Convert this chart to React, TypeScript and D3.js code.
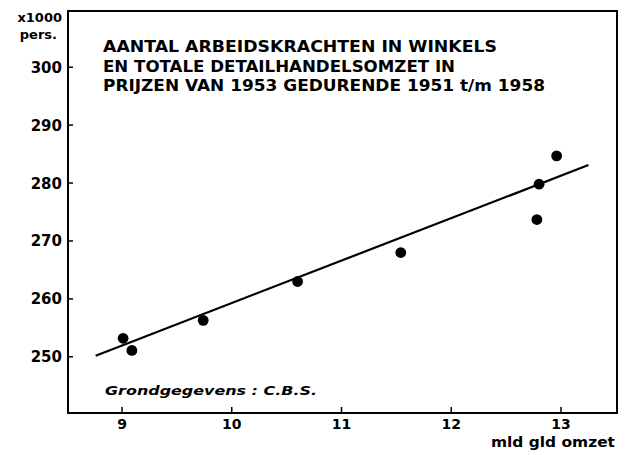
import React from "react";
import * as d3 from "d3";

const omzet = [9.01, 9.09, 9.74, 10.6, 11.54, 12.78, 12.8, 12.96];
const arbeid = [253.2, 251.1, 256.3, 263.0, 268.0, 273.7, 279.8, 284.7];
const trendX = [8.76, 13.25];
const trendY = [250.2, 283.1];
const xTicks = [9, 10, 11, 12, 13];
const yTicks = [250, 260, 270, 280, 290, 300];
const titleLines = [
  "AANTAL ARBEIDSKRACHTEN IN WINKELS",
  "EN TOTALE DETAILHANDELSOMZET IN",
  "PRIJZEN VAN 1953 GEDURENDE 1951 t/m 1958",
];
const titleWidths = [394, 352, 442];

export default function App() {
  const W = 630, H = 455;
  const left = 68, right = 617, top = 11, bottom = 413;
  const x = d3.scaleLinear().domain([8.508, 13.51]).range([left, right]);
  const y = d3.scaleLinear().domain([240.3, 309.7]).range([bottom, top]);
  const font = "'DejaVu Sans', Verdana, sans-serif";
  const line = d3.line<number>().x((d, i) => x(trendX[i])).y((d, i) => y(trendY[i]));
  return (
    <svg width={W} height={H} style={{ position: "absolute", left: 0, top: 0, background: "#fff" }}>
      <rect x={0} y={0} width={W} height={H} fill="#fff" />
      <rect x={left} y={top} width={right - left} height={bottom - top} fill="none" stroke="#000" strokeWidth={2} />
      {yTicks.map((t) => (
        <g key={"y" + t}>
          <line x1={left} x2={left + 5} y1={y(t)} y2={y(t)} stroke="#000" strokeWidth={1.5} />
          <text x={62} y={y(t) + 5.5} textAnchor="end" fontFamily={font} fontWeight="bold" fontSize={15}>{t}</text>
        </g>
      ))}
      {xTicks.map((t) => (
        <g key={"x" + t}>
          <line x1={x(t)} x2={x(t)} y1={bottom} y2={bottom - 6} stroke="#000" strokeWidth={1.5} />
          <text x={x(t)} y={429} textAnchor="middle" fontFamily={font} fontWeight="bold" fontSize={14}>{t}</text>
        </g>
      ))}
      <text x={62} y={22} textAnchor="end" fontFamily={font} fontWeight="bold" fontSize={13}>x1000</text>
      <text x={57} y={39} textAnchor="end" fontFamily={font} fontWeight="bold" fontSize={13}>pers.</text>
      <text x={615} y={447} textAnchor="end" fontFamily={font} fontWeight="bold" fontSize={14}
        textLength={124} lengthAdjust="spacingAndGlyphs">mld gld omzet</text>
      {titleLines.map((s, i) => (
        <text key={i} x={103} y={52 + i * 19.5} fontFamily={font} fontWeight="bold" fontSize={15}
          textLength={titleWidths[i]} lengthAdjust="spacingAndGlyphs">{s}</text>
      ))}
      <text x={105} y={395} fontFamily={font} fontWeight="bold" fontStyle="italic" fontSize={13}
        textLength={212} lengthAdjust="spacingAndGlyphs">Grondgegevens : C.B.S.</text>
      <path d={line(trendX) || ""} fill="none" stroke="#000" strokeWidth={2.2} />
      {omzet.map((v, i) => (
        <circle key={i} cx={x(v)} cy={y(arbeid[i])} r={5.4} fill="#000" />
      ))}
    </svg>
  );
}
